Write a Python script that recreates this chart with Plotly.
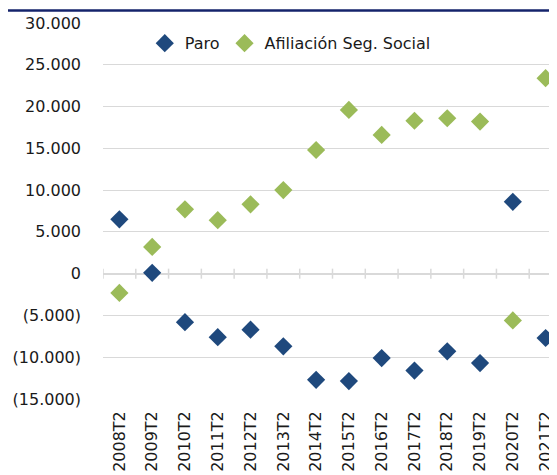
import plotly.graph_objects as go

categories = ["2008T2", "2009T2", "2010T2", "2011T2", "2012T2", "2013T2", "2014T2",
              "2015T2", "2016T2", "2017T2", "2018T2", "2019T2", "2020T2", "2021T2"]
paro = [6500, 100, -5800, -7600, -6700, -8700, -12700, -12850, -10100, -11600,
        -9300, -10700, 8600, -7700]
afiliacion = [-2300, 3200, 7700, 6400, 8300, 10000, 14800, 19600, 16600, 18300,
              18600, 18200, -5600, 23400]
y_tickvals = [30000, 25000, 20000, 15000, 10000, 5000, 0, -5000, -10000, -15000]
y_ticktext = ["30.000", "25.000", "20.000", "15.000", "10.000", "5.000", "0",
              "(5.000)", "(10.000)", "(15.000)"]

BLUE = "#1F497D"
GREEN = "#9BBB59"
GRID = "#D9D9D9"
TXT = "#1a1a1a"
FONT = "DejaVu Sans"

xi = list(range(len(categories)))

fig = go.Figure()
fig.add_trace(go.Scatter(x=xi, y=paro, mode="markers", name="Paro",
                         marker=dict(symbol="diamond", size=14, color=BLUE)))
fig.add_trace(go.Scatter(x=xi, y=afiliacion, mode="markers", name="Afiliación Seg. Social",
                         marker=dict(symbol="diamond", size=14, color=GREEN)))

# small cross ticks on the zero line between categories
shapes = []
for i in range(len(categories) + 1):
    b = i - 0.5
    shapes.append(dict(type="line", xref="x", yref="y", x0=b, x1=b, y0=-600, y1=600,
                       line=dict(color=GRID, width=1.5), layer="below"))
# navy rule at top
shapes.append(dict(type="line", xref="paper", yref="paper", x0=-0.207, x1=1.01,
                   y0=1.033, y1=1.033, line=dict(color="#14236B", width=2.5)))

fig.update_layout(
    width=557, height=475,
    margin=dict(l=95, r=3, t=14.5, b=84, autoexpand=False),
    paper_bgcolor="white", plot_bgcolor="white",
    font=dict(family=FONT, size=16, color=TXT),
    showlegend=True,
    legend=dict(orientation="h", x=0.408, xanchor="center", y=0.946, yanchor="middle",
                bgcolor="rgba(255,255,255,0)", font=dict(size=16, color=TXT),
                itemwidth=30, tracegroupgap=0),
    shapes=shapes,
    xaxis=dict(range=[-0.5, 13.5], tickmode="array", tickvals=xi, ticktext=categories,
               tickangle=-90, showgrid=False, zeroline=False, showline=False,
               ticks="", tickfont=dict(size=16, color=TXT), ticklabelstandoff=8,
               automargin=False),
    yaxis=dict(range=[-15000, 30000], tickmode="array", tickvals=y_tickvals,
               ticktext=y_ticktext, showgrid=True, gridcolor=GRID, gridwidth=1.2,
               zeroline=True, zerolinecolor=GRID, zerolinewidth=1.5, showline=False,
               ticks="", tickfont=dict(size=16, color=TXT), ticklabelstandoff=21,
               automargin=False),
)

fig.write_html("out.html")
